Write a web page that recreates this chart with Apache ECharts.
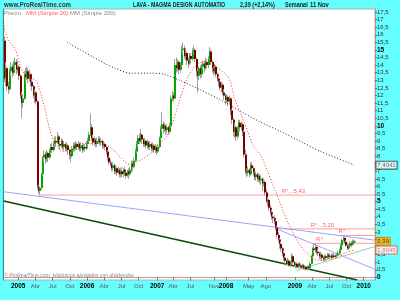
<!DOCTYPE html>
<html><head><meta charset="utf-8">
<script src="https://cdn.jsdelivr.net/npm/echarts@6/dist/echarts.min.js"></script>
<style>html,body{margin:0;padding:0;background:#66ffff}#c{width:400px;height:300px}</style>
</head><body><div id="c"></div><script>
// ---- data ----
const startDate = '2004-10-11';
const weekCount = 281;
const opens = [
15.6,13.2,13.8,12.6,12.4,13.6,13.9,13.5,14.0,14.2,
13.7,13.9,13.3,12.0,11.5,11.8,13.4,13.2,13.6,13.1,
13.4,12.9,12.6,12.0,12.2,11.6,6.0,5.7,5.9,6.8,
7.9,8.1,7.8,8.2,7.9,8.3,8.6,8.4,8.8,9.0,
8.9,9.3,8.8,8.7,9.0,8.6,8.8,8.5,8.7,8.4,
8.1,8.0,8.5,8.7,8.5,8.8,8.6,8.8,8.5,8.7,
8.4,8.6,8.5,8.8,9.0,9.4,9.9,9.2,8.9,9.1,
8.8,9.0,9.1,8.9,9.0,8.7,8.8,8.6,8.3,7.9,
7.6,7.5,7.2,7.4,7.0,7.2,6.9,7.1,6.8,7.0,
6.8,7.1,6.9,6.7,7.0,6.8,7.1,7.5,7.3,7.7,
8.3,8.8,9.2,9.0,9.4,9.1,8.8,9.0,8.7,8.9,
8.6,8.8,8.5,8.7,8.4,8.6,8.3,8.6,9.2,9.8,
10.1,9.8,10.0,9.7,9.9,9.6,10.0,11.8,12.0,11.8,
14.0,13.8,14.2,13.7,14.0,15.0,15.1,14.6,14.8,14.3,
14.1,14.6,14.4,14.9,15.0,14.4,13.6,13.3,13.8,13.4,
13.9,14.1,13.8,14.2,14.0,14.4,14.9,14.2,13.8,13.6,
13.9,13.4,13.1,12.9,12.5,12.7,12.2,12.0,11.7,11.9,
11.6,11.8,11.0,10.4,9.6,9.9,9.3,9.8,10.2,9.9,
10.1,9.6,8.1,7.0,6.9,7.1,6.8,7.4,7.2,6.9,
6.6,6.8,6.5,6.7,6.4,6.5,6.2,6.3,5.6,5.0,
5.1,4.6,4.3,4.0,3.9,3.7,3.3,2.8,2.5,2.2,
1.9,1.6,1.3,1.1,0.9,1.1,0.8,1.0,1.4,1.0,
0.8,0.9,0.7,0.9,0.8,0.7,0.8,0.6,0.7,0.55,
0.7,0.6,0.9,1.4,1.9,1.8,2.0,1.7,1.6,1.4,
1.5,1.3,1.2,1.4,1.3,1.5,1.35,1.45,1.3,1.45,
1.35,1.4,1.5,1.6,1.8,2.1,2.45,2.6,2.35,2.1,
1.9,2.05,2.25,2.15,2.35,2.34];
const closes = [
13.1,13.8,12.6,12.4,13.6,13.9,13.5,14.0,14.2,13.7,
13.9,13.3,12.0,11.5,11.8,13.4,13.2,13.6,13.1,13.4,
12.9,12.6,12.0,12.2,11.6,6.0,5.7,5.9,6.8,7.9,
8.1,7.8,8.2,7.9,8.3,8.6,8.4,8.8,9.0,8.9,
9.3,8.8,8.7,9.0,8.6,8.8,8.5,8.7,8.4,8.1,
8.0,8.5,8.7,8.5,8.8,8.6,8.8,8.5,8.7,8.4,
8.6,8.5,8.8,9.0,9.4,9.9,9.2,8.9,9.1,8.8,
9.0,9.1,8.9,9.0,8.7,8.8,8.6,8.3,7.9,7.6,
7.5,7.2,7.4,7.0,7.2,6.9,7.1,6.8,7.0,6.8,
7.1,6.9,6.7,7.0,6.8,7.1,7.5,7.3,7.7,8.3,
8.8,9.2,9.0,9.4,9.1,8.8,9.0,8.7,8.9,8.6,
8.8,8.5,8.7,8.4,8.6,8.3,8.6,9.2,9.8,10.1,
9.8,10.0,9.7,9.9,9.6,10.0,11.8,12.0,11.8,14.0,
13.8,14.2,13.7,14.0,15.0,15.1,14.6,14.8,14.3,14.1,
14.6,14.4,14.9,15.0,14.4,13.6,13.3,13.8,13.4,13.9,
14.1,13.8,14.2,14.0,14.4,14.9,14.2,13.8,13.6,13.9,
13.4,13.1,12.9,12.5,12.7,12.2,12.0,11.7,11.9,11.6,
11.8,11.0,10.4,9.6,9.9,9.3,9.8,10.2,9.9,10.1,
9.6,8.1,7.0,6.9,7.1,6.8,7.4,7.2,6.9,6.6,
6.8,6.5,6.7,6.4,6.5,6.2,6.3,5.6,5.0,5.1,
4.6,4.3,4.0,3.9,3.7,3.3,2.8,2.5,2.2,1.9,
1.6,1.3,1.1,0.9,1.1,0.8,1.0,1.4,1.0,0.8,
0.9,0.7,0.9,0.8,0.7,0.8,0.6,0.7,0.55,0.7,
0.6,0.9,1.4,1.9,1.8,2.0,1.7,1.6,1.4,1.5,
1.3,1.2,1.4,1.3,1.5,1.35,1.45,1.3,1.45,1.35,
1.4,1.5,1.6,1.8,2.1,2.45,2.6,2.35,2.1,1.9,
2.05,2.25,2.15,2.35,2.34,2.39];
const lows = [
12.9,12.6,12.3,12.1,12.3,13.3,13.2,13.3,13.7,13.4,
13.5,13.0,11.8,10.5,11.2,11.7,12.9,13.0,12.8,12.9,
12.6,12.3,11.8,11.5,11.4,5.8,5.5,5.4,5.8,6.7,
7.6,7.5,7.6,7.6,7.8,8.1,8.2,8.3,8.6,8.6,
8.8,8.6,8.4,8.5,8.4,8.4,8.3,8.3,8.1,7.8,
7.6,7.9,8.3,8.3,8.4,8.4,8.4,8.3,8.3,8.2,
8.3,8.3,8.4,8.6,8.9,9.3,9.0,8.7,8.7,8.6,
8.6,8.8,8.7,8.7,8.5,8.5,8.4,8.1,7.7,7.4,
7.3,7.0,7.0,6.8,6.8,6.7,6.8,6.6,6.6,6.6,
6.6,6.7,6.5,6.6,6.5,6.7,6.9,7.0,7.2,7.6,
8.2,8.6,8.8,8.9,8.8,8.6,8.6,8.5,8.5,8.4,
8.4,8.3,8.3,8.2,8.2,8.1,8.2,8.5,9.1,9.6,
9.5,9.6,9.4,9.5,9.4,9.5,9.9,11.6,11.6,11.8,
13.5,13.6,13.4,13.5,13.9,14.7,14.4,14.3,14.0,13.8,
14.0,14.1,14.3,14.7,14.2,13.2,12.2,13.0,13.1,13.2,
13.7,13.5,13.7,13.8,13.8,14.3,14.0,13.5,13.3,13.4,
13.2,12.9,12.6,12.3,12.2,12.0,11.7,11.4,11.5,11.3,
11.4,10.7,10.1,9.3,9.2,9.0,9.1,9.6,9.6,9.7,
9.3,7.9,6.8,6.6,6.7,6.6,6.7,7.0,6.7,6.4,
6.4,6.3,6.3,6.2,6.1,5.7,6.0,5.4,4.9,4.7,
4.4,4.1,3.8,3.6,3.5,3.1,2.6,2.3,1.9,1.7,
1.4,1.1,0.9,0.8,0.8,0.7,0.7,0.9,0.9,0.7,
0.6,0.6,0.6,0.6,0.6,0.55,0.5,0.5,0.45,0.45,
0.5,0.55,0.85,1.3,1.6,1.6,1.5,1.4,1.2,1.2,
1.1,1.05,1.1,1.1,1.2,1.2,1.2,1.2,1.25,1.25,
1.25,1.3,1.4,1.55,1.75,2.05,2.35,2.2,2.0,1.8,
1.8,2.0,2.0,2.1,2.2,2.25];
const highs = [
15.9,14.2,13.9,12.9,13.8,14.2,14.1,14.3,14.5,14.4,
14.3,14.0,13.4,12.2,12.1,13.6,13.8,13.9,13.8,13.7,
13.5,13.1,12.7,12.4,12.3,11.7,6.1,6.0,6.9,8.0,
8.4,8.3,8.4,8.3,8.5,8.8,8.9,9.0,9.3,9.3,
9.6,9.4,9.1,9.2,9.1,9.0,8.9,8.9,8.8,8.5,
8.3,8.6,8.9,8.9,9.0,8.9,9.0,8.9,8.9,8.8,
8.8,8.8,9.0,9.2,9.6,10.8,10.1,9.4,9.3,9.2,
9.2,9.3,9.3,9.2,9.1,9.0,8.9,8.7,8.4,8.0,
7.8,7.6,7.6,7.5,7.4,7.3,7.3,7.2,7.2,7.3,
7.2,7.3,7.0,7.1,7.2,7.3,7.7,7.7,7.9,8.5,
9.0,9.4,9.5,9.8,9.5,9.2,9.2,9.1,9.1,9.0,
9.0,8.9,8.9,8.8,8.8,8.7,8.8,9.3,10.0,10.9,
10.3,10.2,10.1,10.1,10.0,10.2,12.0,12.3,12.2,14.4,
14.5,14.4,14.3,14.2,15.3,15.5,15.3,15.1,14.9,14.5,
14.8,14.8,15.1,15.3,15.1,14.5,13.8,13.9,14.0,14.1,
14.3,14.3,14.5,14.4,14.6,15.2,15.0,14.3,13.9,14.1,
14.0,13.5,13.3,13.0,12.9,12.8,12.4,12.1,12.1,12.0,
12.0,11.9,11.1,10.5,10.2,10.0,10.0,10.4,10.4,10.3,
10.2,9.7,8.4,7.2,7.3,7.2,7.6,7.6,7.3,7.0,
7.0,6.9,6.9,6.8,6.7,6.6,6.5,6.4,5.8,5.3,
5.2,4.8,4.5,4.2,4.1,3.8,3.4,3.0,2.6,2.4,
2.0,1.8,1.4,1.2,1.3,1.2,1.1,1.6,1.5,1.1,
1.0,1.0,1.0,1.0,0.9,0.9,0.9,0.8,0.75,0.8,
0.8,1.0,1.5,2.0,2.25,2.2,2.1,1.9,1.7,1.7,
1.6,1.4,1.5,1.5,1.6,1.6,1.6,1.55,1.6,1.6,
1.55,1.65,1.75,1.9,2.2,2.55,2.77,2.7,2.45,2.2,
2.2,2.4,2.4,2.5,2.5,2.45];
// moving averages: [week index, value]
const ma20Points = [[0,17.0],[1,16.2],[4,15.6],[9,15.0],[12,14.1],[15,13.5],[18,13.3],[22,13.1],[25,12.9],
 [30,11.5],[35,9.7],[38,9.0],[41,8.6],[44,8.3],[50,8.6],[58,8.83],[65,8.83],[73,8.94],[78,8.72],[83,8.39],
 [88,7.95],[95,7.45],[103,7.73],[111,8.17],[118,8.83],[123,9.27],[128,10.3],[133,11.7],[138,13.0],[143,13.78],
 [147,14.11],[151,14.22],[157,14.11],[162,13.78],[167,13.45],[171,13.0],[174,11.91],[179,10.81],[184,9.71],
 [189,8.61],[194,8.1],[199,7.07],[204,5.96],[209,4.87],[214,3.76],[219,2.88],[224,2.11],[229,1.6],[234,1.25],
 [239,1.12],[244,1.2],[249,1.35],[254,1.5],[259,1.65],[265,1.8045]];
const ma200Points = [[48,15.5],[58,15.0],[73,14.27],[84,13.8],[96,13.47],[111,13.47],[121,13.4],[133,13.0],
 [149,12.35],[164,11.7],[179,10.96],[194,10.24],[209,9.64],[224,8.98],[239,8.32],[265,7.4041]];
// drawn support / resistance lines: [startWeek, startValue, endWeek, endValue]
const resistLines = [[27,5.43,280,5.43],[207,3.20,280,3.20],[253,2.77,280,2.77],[234,2.25,280,2.25]];
const lavenderLines = [[0,5.65,280,2.46],[207,3.17,280,0.55]];
const darkGreenLine = [0,5.04,267,-0.17];
const lightGreenLine = [221,0.46,280,2.03];
const resistLabels = [[210,5.70,'R°...5,43'],[232,3.46,'R°...3,20'],[253,3.03,'R°'],[236,2.53,'R°']];
const priceTags = [[7.4041,'7,4041'],[2.39,'2,39'],[1.8045,'1,8045']];
const xTickLabels = [
 ['2004-12-27','2005',1],['2005-03-28','Abr',0],['2005-06-27','Jul',0],['2005-09-26','Oct',0],
 ['2005-12-26','2006',1],['2006-03-27','Abr',0],['2006-06-26','Jul',0],['2006-09-25','Oct',0],
 ['2007-01-01','2007',1],['2007-03-26','Abr',0],['2007-06-25','Jul',0],['2007-10-29','Nov',0],
 ['2007-12-31','2008',1],['2008-04-28','May',0],['2008-07-28','Ago',0],
 ['2008-12-29','2009',1],['2009-03-30','Abr',0],['2009-06-29','Jul',0],['2009-09-28','Oct',0],
 ['2009-12-28','2010',1]];
const yTickValues = [0,0.5,1,1.5,2,2.5,3,3.5,4,4.5,5,5.5,6,6.5,7,7.5,8,8.5,9,9.5,10,10.5,11,11.5,12,12.5,13,13.5,14,14.5,15,15.5,16,16.5,17,17.5];

// ---- build ----
const categories = [];
(function(){ const t0 = Date.parse(startDate + 'T00:00:00Z');
  for (let i = 0; i < weekCount; i++) categories.push(new Date(t0 + i*7*86400000).toISOString().slice(0,10)); })();
const labelMap = new Map(xTickLabels.map(r => [r[0], r]));
const candleData = opens.map((o, i) => [i, o, closes[i], lows[i], highs[i]]);
const seg = s => [[s[0], s[1]], [s[2], s[3]]];

function renderCandle(params, api) {
  const i = api.value(0), o = api.value(1), c = api.value(2), l = api.value(3), h = api.value(4);
  const po = api.coord([i, o]);
  const x = Math.round(po[0]);
  const yc = api.coord([i, c])[1], yl = api.coord([i, l])[1], yh = api.coord([i, h])[1];
  const top = Math.min(po[1], yc), ht = Math.max(1, Math.abs(po[1] - yc));
  return {type:'group', children:[
    {type:'line', shape:{x1:x+0.5, y1:yh, x2:x+0.5, y2:yl}, style:{stroke:'#a0a0a0', lineWidth:1}},
    {type:'rect', shape:{x:x, y:top, width:2, height:ht}, style:{fill: c >= o ? '#00a800' : '#7a0000'}}
  ]};
}
const lineSeries = (data, color, width, type) => ({type:'line', data, showSymbol:false, silent:true,
  lineStyle:{color, width, type: type || 'solid'}, itemStyle:{color}, z:3});

const font = '"Liberation Sans", Arial, sans-serif';
const series = [
  lineSeries(seg(resistLines[0]), '#ff9c9c', 1), lineSeries(seg(resistLines[1]), '#ff9c9c', 1),
  lineSeries(seg(resistLines[2]), '#ff9c9c', 1), lineSeries(seg(resistLines[3]), '#ff9c9c', 1),
  lineSeries(seg(lavenderLines[0]), '#a0a0ff', 1), lineSeries(seg(lavenderLines[1]), '#a0a0ff', 1),
  lineSeries(seg(darkGreenLine), '#0a4a0a', 1.5), lineSeries(seg(lightGreenLine), '#a8c8a8', 1),
  {type:'custom', name:'Precio', data: candleData, renderItem: renderCandle, encode:{x:0, y:[1,2,3,4]}, clip:true, z:4},
  Object.assign(lineSeries(ma20Points, '#ff2020', 1, [1,2]), {smooth:0.3, z:5}),
  Object.assign(lineSeries(ma200Points, '#222', 1, [1,2]), {smooth:0.3, z:5}),
  {type:'scatter', data: resistLabels, symbolSize:0, silent:true, z:6,
   label:{show:true, position:'right', distance:0, formatter: p => p.data[2], color:'#ff3a3a', fontSize:6, fontFamily:font}},
  {type:'scatter', symbolSize:0, silent:true, z:7, data: [[280, priceTags[0][0], priceTags[0][1]]],
   label:{show:true, position:'right', distance:2, formatter: p => p.data[2], color:'#333', fontSize:6, fontFamily:font,
     backgroundColor:'#fff', borderColor:'#333', borderWidth:1, padding:[1,1,0,1]}},
  {type:'scatter', symbolSize:0, silent:true, z:7, data: [[280, priceTags[1][0], priceTags[1][1]]],
   label:{show:true, position:'right', distance:2, formatter: p => p.data[2], color:'#222', fontSize:6, fontFamily:font,
     backgroundColor:'#ffb000', borderColor:'#d08800', borderWidth:1, padding:[1,1,0,1]}},
  {type:'scatter', symbolSize:0, silent:true, z:7, data: [[280, priceTags[2][0], priceTags[2][1]]],
   label:{show:true, position:'right', distance:2, formatter: p => p.data[2], color:'#ff4040', fontSize:6, fontFamily:font,
     backgroundColor:'#fff', borderColor:'#ff5050', borderWidth:1, padding:[1,1,0,1]}}
];

const chart = echarts.init(document.getElementById('c'), null, {renderer:'canvas', width:400, height:300});
const isLabel = (idx, val) => labelMap.has(val);
chart.setOption({
  animation:false,
  backgroundColor:'#66ffff',
  grid:{left:3, right:25, top:9, bottom:20, show:true, backgroundColor:'#ffffff', borderColor:'#b0b0b0', borderWidth:1},
  visualMap:[{type:'piecewise', show:false, seriesIndex:10, dimension:0,
    pieces:[{lt:122, color:'#1a1a1a'},{gte:122, lt:196, color:'#8aa4a4'},{gte:196, color:'#1a1a1a'}]}],
  xAxis:{type:'category', data:categories, boundaryGap:true,
    axisLine:{lineStyle:{color:'#bb9999'}},
    axisTick:{show:true, interval:isLabel, alignWithLabel:true, length:3, lineStyle:{color:'#777'}},
    axisLabel:{interval:isLabel, margin:3, fontSize:6, fontFamily:font,
      formatter: v => { const r = labelMap.get(v); if (!r) return ''; return r[2] ? '{y|' + r[1] + '}' : '{m|' + r[1] + '}'; },
      rich:{y:{fontWeight:'bold', color:'#000', fontSize:6.5, fontFamily:font}, m:{color:'#555', fontSize:6, fontFamily:font}}},
    splitLine:{show:false}},
  yAxis:[{type:'value', position:'right', min:-0.17, max:17.7,
    axisLine:{show:true, lineStyle:{color:'#bb9999'}},
    axisTick:{show:true, length:2, customValues:yTickValues, lineStyle:{color:'#666'}},
    axisLabel:{customValues:yTickValues, margin:2, fontSize:6, color:'#333', fontFamily:font,
      formatter: v => { const s = String(v).replace('.', ','); return (v % 5 === 0) ? '{b|' + s + '}' : s; },
      rich:{b:{fontWeight:'bold', color:'#000', fontSize:6.5, fontFamily:font}}},
    splitLine:{show:false}},
   {type:'value', position:'left', min:-0.17, max:17.7, axisLine:{show:true, lineStyle:{color:'#00a8a8', width:1}},
    axisTick:{show:false}, axisLabel:{show:false}, splitLine:{show:false}}],
  series: series,
  graphic:[
    {type:'text', x:4, y:5, scaleX:0.87, style:{text:'www.ProRealTime.com', fontSize:7, fontWeight:'bold', fontFamily:font, fill:'#333', verticalAlign:'middle'}},
    {type:'text', x:133, y:5, scaleX:0.8, style:{text:'LAVA - MAGMA DESIGN AUTOMATIO', fontSize:6.5, fontWeight:'bold', fontFamily:font, fill:'#222', verticalAlign:'middle'}},
    {type:'text', x:240, y:5, scaleX:0.85, style:{text:'2,39 (+2,14%)', fontSize:6.5, fontWeight:'bold', fontFamily:font, fill:'#222', verticalAlign:'middle'}},
    {type:'text', x:285, y:5, scaleX:0.85, style:{text:'Semanal', fontSize:6.5, fontWeight:'bold', fontFamily:font, fill:'#222', verticalAlign:'middle'}},
    {type:'text', x:310, y:5, scaleX:0.9, style:{text:'11 Nov', fontSize:6.5, fontWeight:'bold', fontFamily:font, fill:'#222', verticalAlign:'middle'}},
    {type:'text', x:4, y:13, z:10, style:{text:'Precio', fontSize:6, fontFamily:font, fill:'#888', verticalAlign:'middle'}},
    {type:'text', x:26, y:13, z:10, style:{text:'MM (Simple 20)', fontSize:6, fontFamily:font, fill:'#ff5a5a', verticalAlign:'middle'}},
    {type:'text', x:70, y:13, z:10, style:{text:'MM (Simple 200)', fontSize:6, fontFamily:font, fill:'#888', verticalAlign:'middle'}},
    {type:'text', x:4, y:275, z:10, scaleX:0.85, style:{text:'© ProRealTime.com  Históricos ajustados con dividendos', fontSize:6, fontStyle:'italic', fontFamily:font, fill:'#888', verticalAlign:'middle'}}
  ]
});
</script></body></html>
